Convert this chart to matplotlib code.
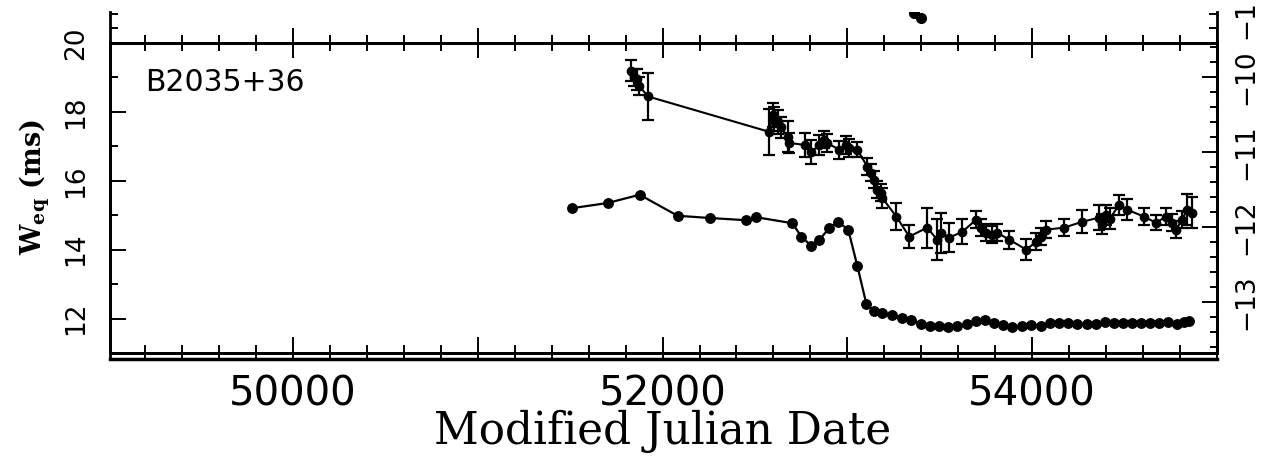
import matplotlib as mpl
import matplotlib.pyplot as plt
from matplotlib.ticker import MultipleLocator, FuncFormatter

mpl.use("agg", force=True)
plt.rcParams['mathtext.fontset'] = 'dejavuserif'

# upper curve: equivalent width W_eq (ms) with errors
weq_mjd = [51830, 51845, 51860, 51875, 51920,
           52578, 52595, 52605, 52622, 52640, 52676, 52686, 52768, 52805,
           52849, 52876, 52890, 52957, 52995, 53010, 53054, 53108, 53130,
           53146, 53162, 53184, 53189, 53265, 53335, 53432, 53486, 53508,
           53551, 53622, 53697, 53724, 53751, 53784, 53811, 53876, 53968,
           54022, 54049, 54076, 54173, 54270, 54362, 54380, 54400, 54420,
           54470, 54514, 54605, 54670, 54724, 54757, 54778, 54811, 54838,
           54865]
weq_ms = [19.20, 19.00, 18.95, 18.75, 18.45,
          17.42, 17.91, 17.80, 17.71, 17.55, 17.28, 17.10, 17.04, 16.84,
          17.04, 17.19, 17.10, 16.90, 17.04, 16.95, 16.90, 16.41, 16.23,
          16.03, 15.74, 15.65, 15.50, 14.96, 14.38, 14.64, 14.29, 14.49,
          14.35, 14.52, 14.87, 14.64, 14.49, 14.43, 14.49, 14.29, 14.00,
          14.23, 14.38, 14.58, 14.64, 14.81, 14.93, 14.75, 15.01, 14.90,
          15.30, 15.16, 14.96, 14.78, 14.96, 14.78, 14.58, 14.87, 15.16,
          15.07]
weq_err = [0.30, 0.25, 0.30, 0.25, 0.68,
           0.67, 0.35, 0.35, 0.35, 0.30, 0.45, 0.30, 0.35, 0.35,
           0.30, 0.25, 0.25, 0.26, 0.25, 0.25, 0.22, 0.25, 0.25,
           0.25, 0.25, 0.25, 0.30, 0.40, 0.33, 0.58, 0.60, 0.58,
           0.43, 0.36, 0.25, 0.25, 0.25, 0.25, 0.25, 0.26, 0.30,
           0.25, 0.25, 0.25, 0.25, 0.33, 0.36, 0.30, 0.30, 0.30,
           0.30, 0.30, 0.25, 0.22, 0.25, 0.25, 0.25, 0.25, 0.45,
           0.45]

# lower curve: read on the right-hand (log) scale
nudot_mjd = [51508, 51703, 51876, 52081, 52254, 52454, 52508, 52703, 52751,
             52805, 52849, 52903, 52951, 53005, 53054, 53103, 53146, 53189,
             53243, 53297, 53346, 53400, 53449, 53497, 53546, 53595, 53649,
             53697, 53746, 53795, 53843, 53892, 53946, 53995, 54049, 54097,
             54146, 54195, 54243, 54297, 54346, 54395, 54443, 54492, 54541,
             54589, 54638, 54686, 54735, 54784, 54822, 54849]
nudot_log = [-11.75, -11.68, -11.57, -11.85, -11.88, -11.91, -11.87, -11.95,
             -12.13, -12.25, -12.17, -12.01, -11.93, -12.04, -12.52, -13.03,
             -13.12, -13.15, -13.17, -13.21, -13.24, -13.29, -13.32, -13.32,
             -13.33, -13.32, -13.29, -13.25, -13.24, -13.28, -13.31, -13.33,
             -13.32, -13.31, -13.32, -13.28, -13.28, -13.28, -13.29, -13.29,
             -13.29, -13.27, -13.28, -13.28, -13.28, -13.28, -13.28, -13.28,
             -13.27, -13.29, -13.27, -13.25]

# points of the panel above, cut off by the frame
upper_mjd = [53362, 53400]
upper_val = [0.97, 0.80]

left_ticks = [12, 14, 16, 18, 20]
right_ticks = [-13, -12, -11, -10]
right_labels = ['\u221213', '\u221212', '\u221211', '\u221210']

W, H = 1276, 459


def box(x0, y0, x1, y1):
    return [x0 / W, 1 - y1 / H, (x1 - x0) / W, (y1 - y0) / H]


fig = plt.figure(figsize=(12.76, 4.59), dpi=100)
ax = fig.add_axes(box(110, 43, 1217, 353))
ax_top = fig.add_axes(box(110, 12, 1217, 43))
ax_bot = fig.add_axes(box(110, 353, 1217, 359))
ax2 = ax.twinx()

xlim = (49010, 55000)
for a in (ax, ax_top, ax_bot):
    a.set_xlim(*xlim)
    a.xaxis.set_major_locator(MultipleLocator(1000))
    a.xaxis.set_minor_locator(MultipleLocator(200))

# main panel
ax.errorbar(weq_mjd, weq_ms, yerr=weq_err, fmt='o-', color='k', ms=6,
            lw=1.5, elinewidth=1.6, capsize=4.5, capthick=1.6)
ax2.plot(nudot_mjd, nudot_log, 'o-', color='k', ms=6.8, lw=1.6)

ax.set_ylim(11.0, 20.0)
ax2.set_ylim(-13.68, -9.547)

ax.xaxis.set_major_formatter(
    FuncFormatter(lambda v, p: '%d' % v if v % 2000 == 0 else ''))
ax.tick_params(axis='x', which='both', direction='in', top=False,
               bottom=True, width=1.4, pad=15.5, labelsize=29)
ax.tick_params(axis='x', which='major', length=11.5)
ax.tick_params(axis='x', which='minor', length=5.8)

ax.set_yticks(left_ticks, labels=[str(t) for t in left_ticks],
              rotation=90, va='center')
ax.yaxis.set_minor_locator(MultipleLocator(1))
ax.tick_params(axis='y', which='both', direction='in', left=True,
               right=False, width=1.4, pad=15, labelsize=19)
ax.tick_params(axis='y', which='major', length=11.5)
ax.tick_params(axis='y', which='minor', length=5.8)

ax2.set_yticks(right_ticks, labels=right_labels, rotation=90, va='center')
ax2.yaxis.set_minor_locator(MultipleLocator(0.2))
ax2.tick_params(axis='y', which='both', direction='in', width=1.4,
                pad=11.5, labelsize=19)
ax2.tick_params(axis='y', which='major', length=11)
ax2.tick_params(axis='y', which='minor', length=5)

for a in (ax, ax2):
    for s in a.spines.values():
        s.set_linewidth(2)

ax.text(0.0316, 0.919, 'B2035+36', transform=ax.transAxes,
        ha='left', va='top', fontsize=21.5)

# strip of the panel above
ax_top.plot(upper_mjd, upper_val, 'o', color='k', ms=7)
ax_top.set_ylim(0, 1)
ax_top.spines['top'].set_visible(False)
for s in ('left', 'right', 'bottom'):
    ax_top.spines[s].set_linewidth(2)
ax_top.tick_params(axis='x', which='both', direction='inout', width=1.4,
                   labelbottom=False)
ax_top.tick_params(axis='x', which='major', length=21)
ax_top.tick_params(axis='x', which='minor', length=11.5)
ax_top.set_yticks([0.48, 0.93])
ax_top.tick_params(axis='y', direction='in', left=True, right=True,
                   length=5.8, width=1.4, labelleft=False)

# gap between this panel and the one below
ax_bot.set_ylim(0, 1)
ax_bot.patch.set_visible(False)
for s in ('top', 'right'):
    ax_bot.spines[s].set_visible(False)
ax_bot.spines['bottom'].set_linewidth(2.5)
ax_bot.spines['left'].set_linewidth(2)
ax_bot.tick_params(axis='x', which='both', direction='in', top=False,
                   bottom=True, length=4.5, width=1.4,
                   labelbottom=False)
ax_bot.set_yticks([])

fig.text(1246 / W, 1 - 20 / H, '\u22121', rotation=90, ha='center',
         va='center', fontsize=19)
fig.text(35 / W, 1 - 187 / H, r'$\mathbf{W}_{\mathbf{eq}}$ (ms)',
         rotation=90, ha='center', va='center', fontsize=19.5,
         family='DejaVu Serif', weight='bold')
fig.text(663 / W, 1 - 444 / H, 'Modified Julian Date', ha='center',
         va='baseline', fontsize=31.5, family='DejaVu Serif')

fig.savefig('out.png', dpi=100)
plt.close(fig)
